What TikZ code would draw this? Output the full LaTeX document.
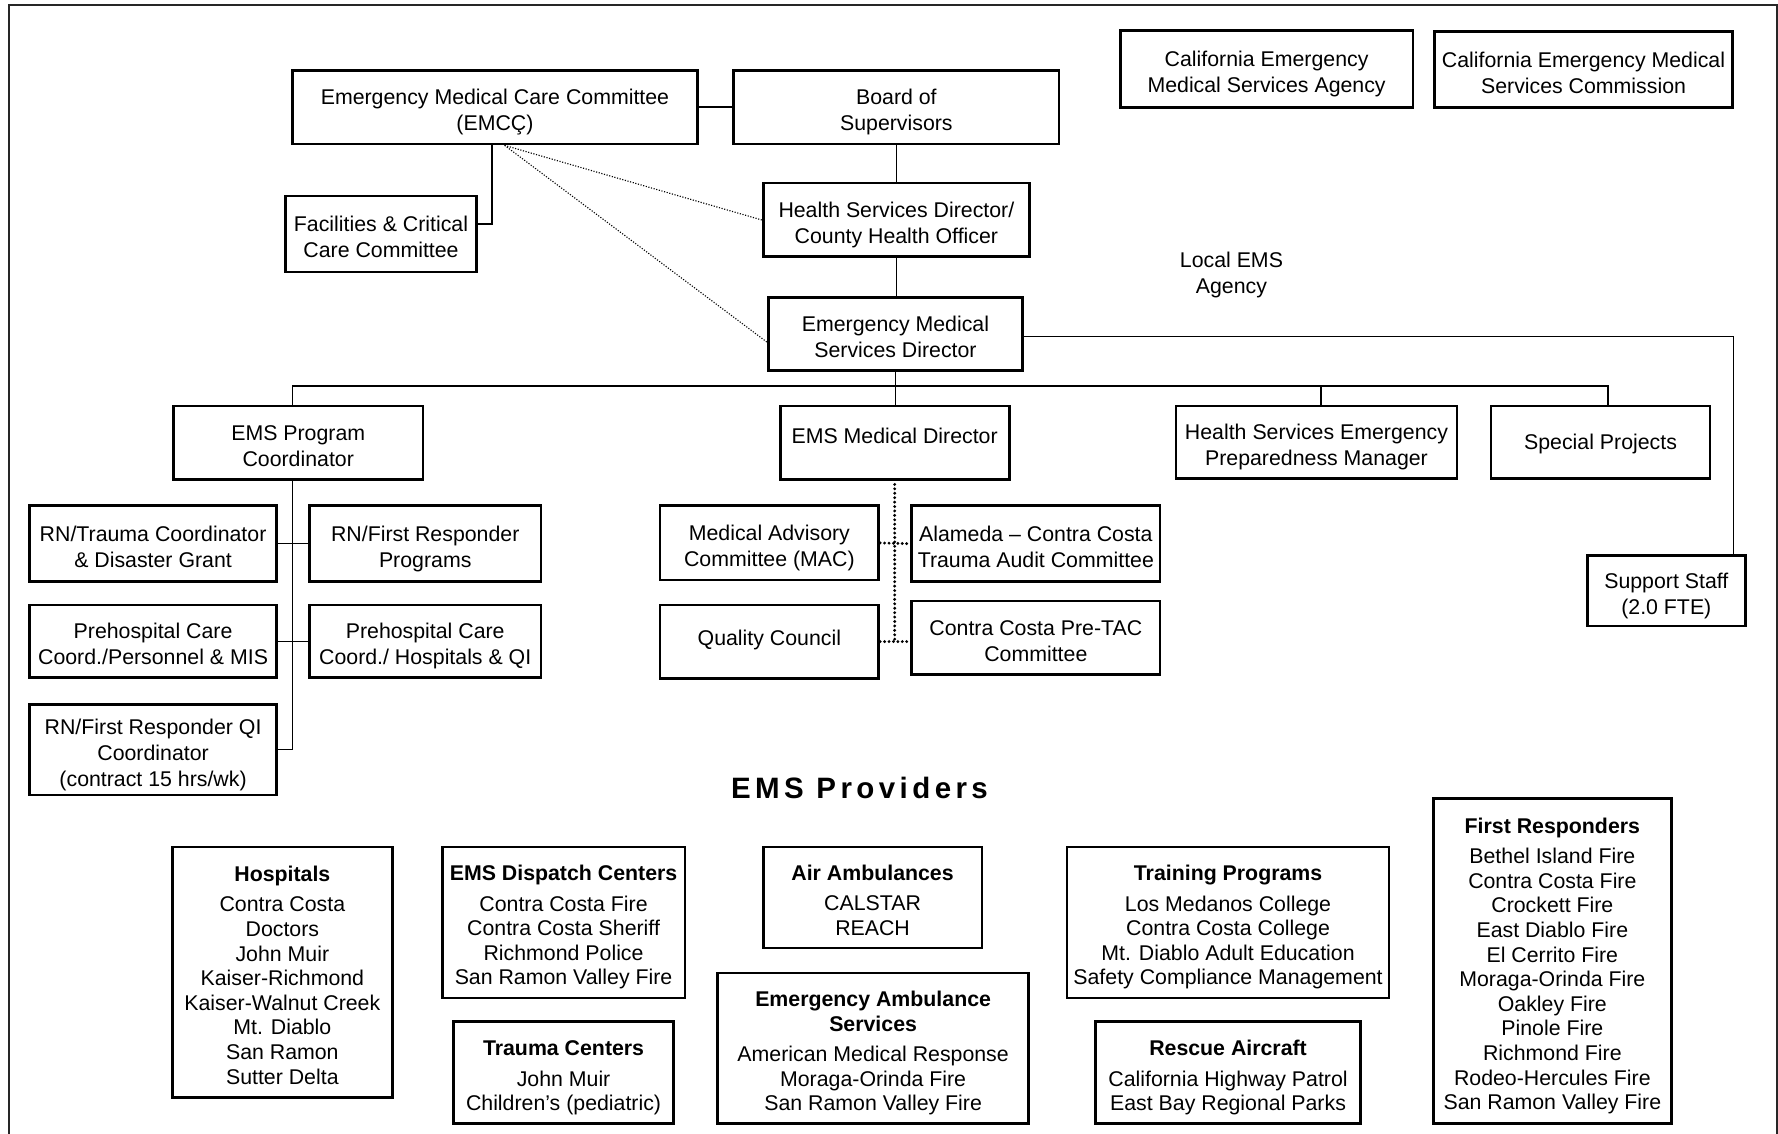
\documentclass[tikz,border=0pt]{standalone}
\usepackage{fontspec}
\setmainfont{Liberation Sans}
\newfontfamily\spacedfont[LetterSpace=15]{Liberation Sans}
\newcommand{\boxtext}[1]{\raisebox{-2.4pt}[\height][\depth]{\begin{tabular}{@{}c@{}}#1\end{tabular}}}

\begin{document}
\begin{tikzpicture}
            [x=0.5pt,y=-0.5pt,every node/.style={align=center, inner sep=0pt, font=\fontsize{9.4}{11.5}\selectfont},
             box/.style 2 args={draw, line width=1.2pt, minimum width=#1*0.5pt, minimum height=#2*0.5pt},
             list/.style 2 args={box={#1}{#2}, font=\fontsize{9.4}{10.85}\selectfont},
             link/.style={line width=0.6pt},
             thindots/.style={line width=0.5pt, dash pattern=on 0.5pt off 0.7pt},
             bigdots/.style={line width=1.4pt, line cap=round, dash pattern=on 0pt off 1.95pt}]
          \useasboundingbox (0,0) rectangle (1568,1000);
          \draw[line width=0.8pt, black!85] (7.6,1010) -- (7.6,4.4) -- (1567,4.4) -- (1567,1010);

          % local agency
          \node[box={357}{65}] (emcc) at (436.5,94.5) {\boxtext{Emergency Medical Care Committee\\(EMCÇ)}};
          \node[box={287}{65}] (board) at (790.5,94.5) {\boxtext{Board of\\Supervisors}};
          \node[box={258}{68}] (agency) at (1117,61) {\boxtext{California Emergency\\Medical Services Agency}};
          \node[box={263}{67}] (commission) at (1396.5,61.5) {\boxtext{California Emergency Medical\\Services Commission}};
          \node[box={168}{67}] (facil) at (336,206.3) {\boxtext{Facilities \& Critical\\Care Committee}};
          \node[box={235}{65}] (hsd) at (790.5,194) {\boxtext{Health Services Director/\\County Health Officer}};
          \node (local) at (1086,242.5) {Local EMS\\Agency};
          \node[box={223.5}{64.4}] (emsdir) at (789.7,294.8) {\boxtext{Emergency Medical\\Services Director}};

          \node[box={220}{64.6}] (prog) at (263,390.3) {\boxtext{EMS Program\\Coordinator}};
          \node[box={202}{64.6}, text depth=5.9pt] (meddir) at (789,390.3) {EMS Medical Director};
          \node[box={248}{64}] (hsepm) at (1161,390) {\boxtext{Health Services Emergency\\Preparedness Manager}};
          \node[box={193}{64}, text depth=0.6pt] (special) at (1411.5,390) {Special Projects};

          \node[box={218}{67}] (trauma) at (135,479.5) {\boxtext{RN/Trauma Coordinator\\\& Disaster Grant}};
          \node[box={204}{67}] (frprog) at (375,479.5) {\boxtext{RN/First Responder\\Programs}};
          \node[box={218}{64}] (phpers) at (135,565.5) {\boxtext{Prehospital Care\\Coord./Personnel \& MIS}};
          \node[box={204}{64}] (phhosp) at (375,565.5) {\boxtext{Prehospital Care\\Coord./ Hospitals \& QI}};
          \node[box={218}{80}] (frqi) at (135,661) {\boxtext{RN/First Responder QI\\Coordinator\\(contract 15 hrs/wk)}};

          \node[box={193}{65.5}] (mac) at (678.5,478.8) {\boxtext{Medical Advisory\\Committee (MAC)}};
          \node[box={193}{64.5}, text depth=3pt] (qc) at (678.5,565.8) {Quality Council};
          \node[box={219}{67}] (tac) at (913.5,479.5) {\boxtext{Alameda -- Contra Costa\\Trauma Audit Committee}};
          \node[box={219}{65}] (pretac) at (913.5,562.5) {\boxtext{Contra Costa Pre-TAC\\Committee}};
          \node[box={139}{62.4}] (staff) at (1469.5,520.8) {\boxtext{Support Staff\\(2.0 FTE)}};

          % providers
          \node[font={\spacedfont\bfseries\fontsize{13}{15}\selectfont}] (head) at (758,695) {EMS Providers};

          \node[list={194}{221}] (hosp) at (249,857.5) {\boxtext{\textbf{Hospitals}\\[2.6pt] Contra Costa\\Doctors\\John Muir\\Kaiser-Richmond\\Kaiser-Walnut Creek\\Mt. Diablo\\San Ramon\\Sutter Delta}};
          \node[list={214}{133}] (disp) at (497,813.5) {\boxtext{\textbf{EMS Dispatch Centers}\\[2.6pt] Contra Costa Fire\\Contra Costa Sheriff\\Richmond Police\\San Ramon Valley Fire}};
          \node[list={194}{90}] (trctr) at (497,946) {\boxtext{\textbf{Trauma Centers}\\[2.6pt] John Muir\\Children’s (pediatric)}};
          \node[list={193}{89}] (air) at (769.5,791.5) {\boxtext{\textbf{Air Ambulances}\\[2.6pt] CALSTAR\\REACH}};
          \node[list={274}{133}] (ambul) at (770,924.5) {\boxtext{\textbf{Emergency Ambulance}\\\textbf{Services}\\[2.6pt] American Medical Response\\Moraga-Orinda Fire\\San Ramon Valley Fire}};
          \node[list={284}{133}] (train) at (1083,813.5) {\boxtext{\textbf{Training Programs}\\[2.6pt] Los Medanos College\\Contra Costa College\\Mt. Diablo Adult Education\\Safety Compliance Management}};
          \node[list={234}{90}] (rescue) at (1083,946) {\boxtext{\textbf{Rescue Aircraft}\\[2.6pt] California Highway Patrol\\East Bay Regional Parks}};
          \node[list={210}{287}] (firstr) at (1369,847.5) {\boxtext{\textbf{First Responders}\\[2.6pt] Bethel Island Fire\\Contra Costa Fire\\Crockett Fire\\East Diablo Fire\\El Cerrito Fire\\Moraga-Orinda Fire\\Oakley Fire\\Pinole Fire\\Richmond Fire\\Rodeo-Hercules Fire\\San Ramon Valley Fire}};

          % connectors
          \foreach \from/\to in {emcc.east/board.west, board.south/hsd.north, trauma.east/frprog.west, phpers.east/phhosp.west}
            \draw[link] (\from) -- (\to);
          \draw[link] (hsd.south) -- (hsd.south |- emsdir.north);
          \draw[link] (emsdir.south) -- (emsdir.south |- meddir.north);
          \draw[link] ([xshift=-1.25pt]emcc.south) |- ([yshift=4.35pt]facil.east);
          \draw[link] ([xshift=-2.5pt]prog.north) -- ++(0,-16.4) -| ([xshift=3.25pt]special.north);
          \draw[link] ([xshift=2pt]hsepm.north) -- ++(0,-16.4);
          \draw[link] ([xshift=-2.5pt]prog.south) |- (frqi.east);
          \draw[link] ([yshift=-1.1pt]emsdir.east) -| ([xshift=-5.7pt]staff.north east);

          \draw[thindots] ([xshift=4.25pt]emcc.south) -- (hsd.west);
          \draw[thindots] ([xshift=4.25pt]emcc.south) -- ([yshift=-3.6pt]emsdir.west);

          \draw[bigdots] ([yshift=-1.7pt]meddir.south) -- (meddir.south |- qc.east);
          \draw[bigdots] (mac.east) -- (tac.west);
          \draw[bigdots] (qc.east) -- (qc.east -| pretac.west);
        \end{tikzpicture}
\end{document}
